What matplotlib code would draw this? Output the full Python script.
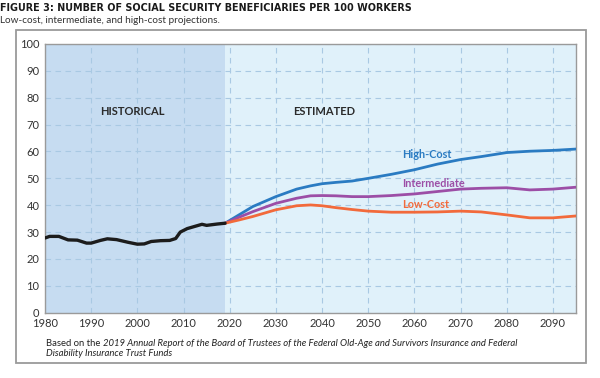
import matplotlib
matplotlib.use('Agg')
import matplotlib.pyplot as plt
from matplotlib.patches import Rectangle

## data
hist_years = [1980, 1981, 1983, 1985, 1987, 1989, 1990, 1992, 1993.5, 1995.5, 1998, 2000,
              2001.5, 2003, 2005, 2007, 2008.3, 2009.3, 2010.8, 2013, 2014, 2015, 2017.3, 2019]
hist_vals = [27.8, 28.4, 28.4, 27.1, 27.0, 25.9, 25.9, 26.9, 27.5, 27.2, 26.2, 25.5,
             25.6, 26.5, 26.8, 26.9, 27.6, 30.0, 31.3, 32.4, 32.9, 32.5, 33.0, 33.3]

proj_years = [2019, 2022, 2025, 2030, 2034.5, 2037.5, 2040, 2043, 2046.5, 2050, 2055,
              2060, 2065, 2070, 2074.5, 2080, 2085, 2090, 2095]
high_cost = [33.3, 36.4, 39.5, 43.2, 46.0, 47.2, 48.0, 48.5, 49.0, 50.0, 51.5,
             53.2, 55.3, 57.0, 58.1, 59.6, 60.1, 60.4, 60.9]
intermediate = [33.3, 35.5, 37.6, 40.7, 42.6, 43.5, 43.6, 43.5, 43.2, 43.2, 43.6,
                44.2, 45.1, 46.0, 46.3, 46.5, 45.7, 46.0, 46.7]
low_cost = [33.3, 34.5, 35.8, 38.3, 39.8, 40.1, 39.8, 39.1, 38.4, 37.8, 37.4,
            37.4, 37.5, 37.8, 37.5, 36.4, 35.3, 35.3, 36.0]

x_ticks = list(range(1980, 2091, 10))
y_ticks = list(range(0, 101, 10))

plt.rcParams['font.family'] = ['Lato', 'DejaVu Sans']

fig = plt.figure(figsize=(6, 3.78), dpi=100)
fig.patch.set_facecolor('white')
renderer = fig.canvas.get_renderer()

# outer frame
fig.patches.append(Rectangle((16/600, 1-363/378), 570/600, 333/378, transform=fig.transFigure,
                             fill=False, edgecolor='#9a9a9a', linewidth=1.3, zorder=0))

ax = fig.add_axes([45/600, 1-312.7/378, 531/600, 268.7/378])
ax.set_facecolor('#e0f1fa')
ax.axvspan(1980, 2019, color='#c6dcf1', zorder=0, lw=0)

ax.set_xlim(1980, 2095)
ax.set_ylim(0, 100)
ax.set_xticks(x_ticks)
ax.set_yticks(y_ticks)
ax.tick_params(length=0, labelsize=8, labelcolor='#333333')
ax.tick_params(axis='x', pad=4)
ax.tick_params(axis='y', pad=4)
ax.grid(True, color='#a9c9e3', linestyle=(0, (5, 4)), linewidth=0.8, zorder=1)
ax.set_axisbelow(True)
for s in ax.spines.values():
    s.set_color('#9a9a9a')
    s.set_linewidth(1.0)

ax.plot(proj_years, high_cost, color='#2a7bc2', lw=2.0, zorder=3, solid_capstyle='round')
ax.plot(proj_years, intermediate, color='#9c4ea6', lw=2.0, zorder=3, solid_capstyle='round')
ax.plot(proj_years, low_cost, color='#f26a3b', lw=2.0, zorder=3, solid_capstyle='round')
ax.plot(hist_years, hist_vals, color='#1c1c1c', lw=2.4, zorder=4, solid_capstyle='round')

ax.text(2057.3, 58.8, 'High-Cost', color='#2a7bc2', fontsize=7.8, fontweight='bold', va='center')
ax.text(2057.3, 48.2, 'Intermediate', color='#9c4ea6', fontsize=7.8, fontweight='bold', va='center')
ax.text(2057.3, 40.1, 'Low-Cost', color='#f26a3b', fontsize=7.8, fontweight='bold', va='center')

ax.text(1999, 74.8, 'HISTORICAL', color='#2b2b2b', fontsize=8, fontweight='bold', ha='center', va='center')
ax.text(2040.5, 74.8, 'ESTIMATED', color='#2b2b2b', fontsize=8, fontweight='bold', ha='center', va='center')

# title: size the font so it spans roughly as wide as the reference
title = fig.text(0.0, 1-8/378, 'FIGURE 3: NUMBER OF SOCIAL SECURITY BENEFICIARIES PER 100 WORKERS',
                 family=['Liberation Sans Narrow', 'DejaVu Sans'], fontweight='bold', fontsize=10,
                 color='#1a1a1a', va='center', ha='left')
w = title.get_window_extent(renderer=renderer).width
title.set_fontsize(10 * 415 / w)

fig.text(0.0, 1-20.5/378, 'Low-cost, intermediate, and high-cost projections.',
         fontsize=7.2, color='#333333', va='center', ha='left')

# footnote, upright part then italic part
t1 = fig.text(46/600, 1-343/378, 'Based on the ', fontsize=6.8, color='#222222', va='center')
bb = t1.get_window_extent(renderer=renderer)
fig.text(bb.x1/600, 1-343/378,
         '2019 Annual Report of the Board of Trustees of the Federal Old-Age and Survivors Insurance and Federal',
         fontsize=6.8, style='italic', color='#222222', va='center')
fig.text(46/600, 1-354/378, 'Disability Insurance Trust Funds', fontsize=6.8, style='italic',
         color='#222222', va='center')

fig.savefig('out.png', dpi=100)
